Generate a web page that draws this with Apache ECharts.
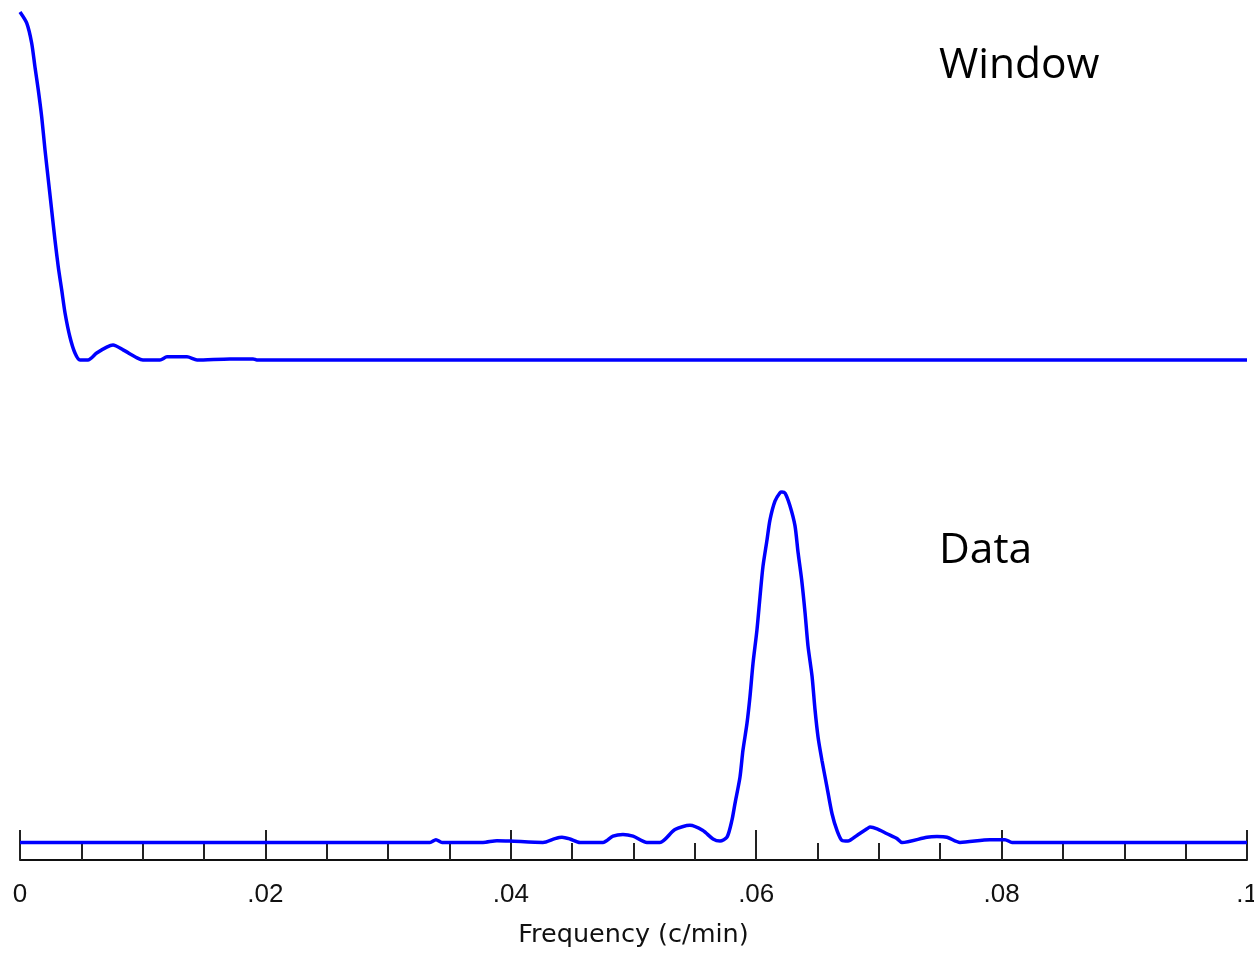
<!DOCTYPE html>
<html>
<head>
<meta charset="utf-8">
<script src="https://cdn.jsdelivr.net/npm/echarts@6/dist/echarts.min.js"></script>
<style>
html,body{margin:0;padding:0;background:#fff;}
#chart{width:1254px;height:955px;}
</style>
</head>
<body>
<div id="chart"></div>
<script>
// Window spectrum: [frequency (c/min), relative amplitude]
var windowFreq = [0, 0.00055, 0.00095, 0.00122, 0.00149, 0.00177, 0.00204, 0.00231, 0.00258, 0.00285, 0.00312, 0.0034, 0.00367, 0.00407, 0.00448, 0.00489, 0.00554, 0.00625, 0.00707, 0.00758, 0.0084, 0.00954, 0.01002, 0.01141, 0.01198, 0.01361, 0.01443, 0.01711, 0.01899, 0.0193, 0.1];
var windowAmp  = [1.0, 0.968, 0.911, 0.842, 0.776, 0.698, 0.603, 0.517, 0.431, 0.345, 0.267, 0.201, 0.135, 0.066, 0.020, 0, 0, 0.020, 0.037, 0.043, 0.029, 0.006, 0, 0, 0.009, 0.009, 0, 0.003, 0.003, 0, 0];

// Data spectrum
var dataFreq = [0, 0.03341, 0.0339, 0.0344, 0.03773, 0.03887, 0.03993, 0.04262, 0.0436, 0.04417, 0.04482, 0.04564, 0.04751, 0.04833, 0.04914, 0.04996, 0.0511, 0.05216, 0.05338, 0.0546, 0.05566, 0.05648, 0.05705, 0.05762, 0.05802, 0.05827, 0.05868, 0.05892, 0.05925, 0.05949, 0.05974, 0.06006, 0.06031, 0.06055, 0.06088, 0.06112, 0.06153, 0.06194, 0.0621, 0.06235, 0.06275, 0.06316, 0.06341, 0.0637, 0.06398, 0.06422, 0.06455, 0.06479, 0.06504, 0.06536, 0.06577, 0.06618, 0.06659, 0.06699, 0.06748, 0.06821, 0.06903, 0.06927, 0.06985, 0.07066, 0.07148, 0.07188, 0.07392, 0.07473, 0.07555, 0.07661, 0.07905, 0.08028, 0.08085, 0.1];
var dataAmp  = [0, 0, 0.008, 0, 0, 0.005, 0.004, 0, 0.011, 0.015, 0.010, 0, 0, 0.018, 0.023, 0.018, 0, 0, 0.037, 0.049, 0.034, 0.010, 0.004, 0.015, 0.063, 0.111, 0.187, 0.263, 0.340, 0.415, 0.511, 0.606, 0.701, 0.787, 0.863, 0.920, 0.974, 0.998, 1.0, 0.997, 0.961, 0.904, 0.828, 0.751, 0.656, 0.561, 0.475, 0.380, 0.301, 0.234, 0.158, 0.082, 0.034, 0.006, 0.004, 0.020, 0.039, 0.044, 0.039, 0.025, 0.011, 0, 0.015, 0.017, 0.015, 0, 0.008, 0.008, 0, 0];

var xTickLabels = ['0', '.02', '.04', '.06', '.08', '.1'];
var xTickValues = [0, 0.02, 0.04, 0.06, 0.08, 0.1];

function pairs(xs, ys) { return xs.map(function (x, i) { return [x, ys[i]]; }); }

var chart = echarts.init(document.getElementById('chart'), null, {renderer: 'canvas'});
var lineStyle = {color: '#0000ff', width: 3.5};
chart.setOption({
  animation: false,
  backgroundColor: '#ffffff',
  grid: [
    {left: 20, right: 7, top: 12, height: 348, outerBoundsMode: 'none', containLabel: false},
    {left: 20, right: 7, top: 492, height: 368, outerBoundsMode: 'none', containLabel: false}
  ],
  xAxis: [
    {gridIndex: 0, type: 'value', min: 0, max: 0.1, show: false},
    {gridIndex: 1, type: 'value', min: 0, max: 0.1, interval: 0.02,
     axisLine: {show: true, onZero: false, lineStyle: {color: '#111', width: 2}},
     axisTick: {show: true, inside: true, length: 30, lineStyle: {color: '#222', width: 2}},
     minorTick: {show: true, splitNumber: 4, length: 17, lineStyle: {color: '#222', width: 2}},
     splitLine: {show: false},
     axisLabel: {
       margin: 22, color: '#111', fontSize: 26, fontFamily: 'Liberation Sans',
       showMinLabel: true, showMaxLabel: true, hideOverlap: false,
       formatter: function (v) {
         for (var i = 0; i < xTickValues.length; i++) {
           if (Math.abs(v - xTickValues[i]) < 1e-9) return xTickLabels[i];
         }
         return '';
       }
     },
     name: 'Frequency (c/min)', nameLocation: 'middle', nameGap: 62,
     nameTextStyle: {color: '#111', fontSize: 25.5, fontFamily: 'DejaVu Sans'}
    }
  ],
  yAxis: [
    {gridIndex: 0, type: 'value', min: 0, max: 1, show: false},
    {gridIndex: 1, type: 'value', min: -0.05, max: 1, show: false}
  ],
  series: [
    {type: 'line', xAxisIndex: 0, yAxisIndex: 0, data: pairs(windowFreq, windowAmp),
     smooth: 0.25, showSymbol: false, clip: false, lineStyle: lineStyle},
    {type: 'line', xAxisIndex: 1, yAxisIndex: 1, data: pairs(dataFreq, dataAmp),
     smooth: 0.25, showSymbol: false, clip: false, lineStyle: lineStyle}
  ],
  graphic: [
    {type: 'text', left: 939, top: 44, style: {text: 'Window', fontSize: 42.5, fontFamily: 'Open Sans', fill: '#000'}},
    {type: 'text', left: 939, top: 529, style: {text: 'Data', fontSize: 42.5, fontFamily: 'Open Sans', fill: '#000'}}
  ]
});
</script>
</body>
</html>
